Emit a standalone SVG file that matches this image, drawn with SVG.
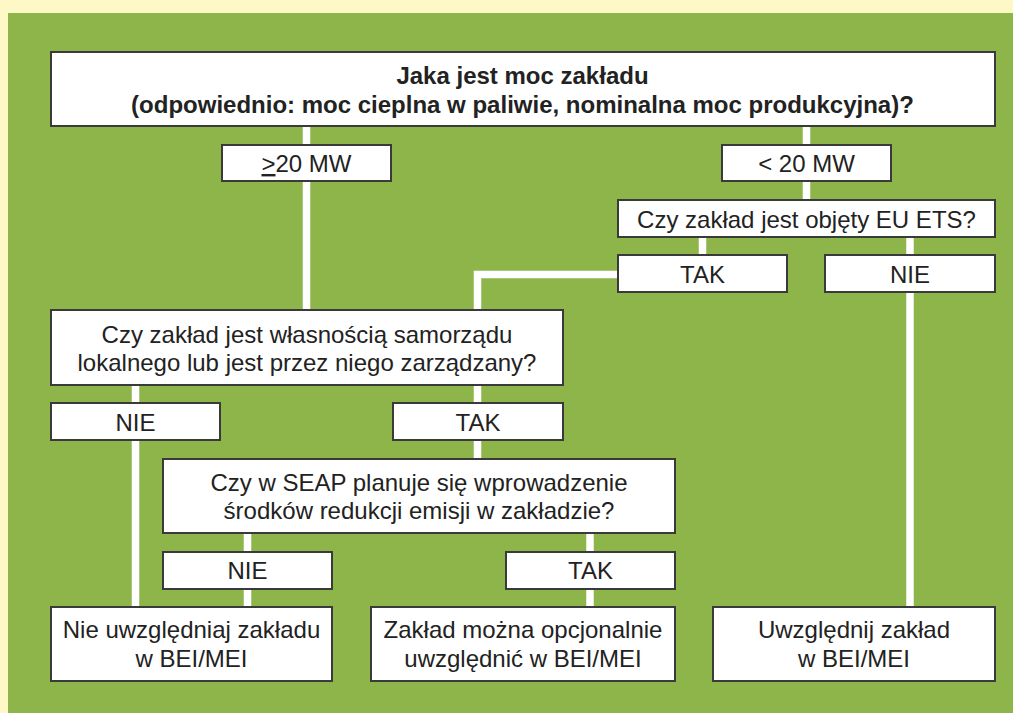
<svg xmlns="http://www.w3.org/2000/svg" width="1013" height="713" viewBox="0 0 1013 713">
<style>
.box{fill:#ffffff;stroke:#3a3a3a;stroke-width:2}
.t{font-family:"Liberation Sans",Arial,sans-serif;font-size:24px;fill:#222222;text-anchor:middle}
.b{font-weight:bold}
.c{stroke:#ffffff;stroke-width:7.5;fill:none;stroke-linejoin:miter;stroke-linecap:butt}
</style>
<rect x="0" y="0" width="1013" height="713" fill="#fef8c6"/>
<rect x="8" y="13" width="1005" height="700" fill="#8eb54a"/>
<g id="connectors">
<line class="c" x1="306.5" y1="126" x2="306.5" y2="310"/>
<line class="c" x1="806.5" y1="126" x2="806.5" y2="200"/>
<line class="c" x1="702.5" y1="237" x2="702.5" y2="255"/>
<line class="c" x1="910" y1="237" x2="910" y2="607"/>
<path class="c" d="M618 274.5 H477.5 V459"/>
<line class="c" x1="135.5" y1="385" x2="135.5" y2="607"/>
<line class="c" x1="247.5" y1="533" x2="247.5" y2="607"/>
<line class="c" x1="590" y1="533" x2="590" y2="607"/>
</g>
<g id="q-power">
<rect class="box" x="51" y="52" width="944" height="74"/>
<text class="t b" x="522.5" y="84">Jaka jest moc zakładu</text>
<text class="t b" x="522.5" y="113">(odpowiednio: moc cieplna w paliwie, nominalna moc produkcyjna)?</text>
</g>
<g id="ge20">
<rect class="box" x="222" y="145" width="169" height="36"/>
<text class="t" x="306.5" y="172"><tspan text-decoration="underline">&gt;</tspan>20 MW</text>
</g>
<g id="lt20">
<rect class="box" x="722" y="145" width="169" height="36"/>
<text class="t" x="806.5" y="172">&lt; 20 MW</text>
</g>
<g id="q-ets">
<rect class="box" x="618" y="200" width="377" height="37"/>
<text class="t" x="806.5" y="228">Czy zakład jest objęty EU ETS?</text>
</g>
<g id="ets-tak">
<rect class="box" x="618" y="255" width="169" height="37"/>
<text class="t" x="702.5" y="283">TAK</text>
</g>
<g id="ets-nie">
<rect class="box" x="825" y="255" width="170" height="37"/>
<text class="t" x="910" y="283">NIE</text>
</g>
<g id="q-owner">
<rect class="box" x="51" y="310" width="512" height="75"/>
<text class="t" x="307" y="343">Czy zakład jest własnością samorządu</text>
<text class="t" x="307" y="371">lokalnego lub jest przez niego zarządzany?</text>
</g>
<g id="owner-nie">
<rect class="box" x="51" y="403" width="169" height="37"/>
<text class="t" x="135.5" y="431">NIE</text>
</g>
<g id="owner-tak">
<rect class="box" x="393" y="403" width="170" height="37"/>
<text class="t" x="478" y="431">TAK</text>
</g>
<g id="q-seap">
<rect class="box" x="163" y="459" width="512" height="74"/>
<text class="t" x="419" y="491">Czy w SEAP planuje się wprowadzenie</text>
<text class="t" x="419" y="519">środków redukcji emisji w zakładzie?</text>
</g>
<g id="seap-nie">
<rect class="box" x="163" y="552" width="169" height="37"/>
<text class="t" x="247.5" y="579">NIE</text>
</g>
<g id="seap-tak">
<rect class="box" x="506" y="552" width="169" height="37"/>
<text class="t" x="590.5" y="579">TAK</text>
</g>
<g id="r-exclude">
<rect class="box" x="51" y="607" width="281" height="74"/>
<text class="t" x="191.5" y="638">Nie uwzględniaj zakładu</text>
<text class="t" x="191.5" y="667">w BEI/MEI</text>
</g>
<g id="r-optional">
<rect class="box" x="371" y="607" width="304" height="74"/>
<text class="t" x="523" y="638">Zakład można opcjonalnie</text>
<text class="t" x="523" y="667">uwzględnić w BEI/MEI</text>
</g>
<g id="r-include">
<rect class="box" x="713" y="607" width="282" height="74"/>
<text class="t" x="854" y="638">Uwzględnij zakład</text>
<text class="t" x="854" y="667">w BEI/MEI</text>
</g>
</svg>
